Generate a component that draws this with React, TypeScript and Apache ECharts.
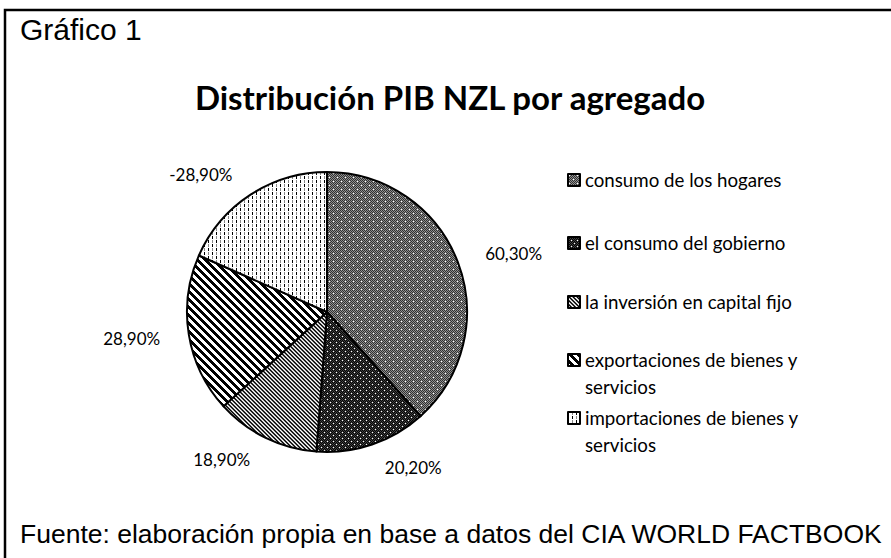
import React, { useEffect, useRef } from 'react';
import * as echarts from 'echarts';

const CATEGORIES = [
  'consumo de los hogares',
  'el consumo del gobierno',
  'la inversión en capital fijo',
  'exportaciones de bienes y servicios',
  'importaciones de bienes y servicios',
];
const VALUES = [60.3, 20.2, 18.9, 28.9, -28.9];
const TITLE = 'Distribución PIB NZL por agregado';
const CAPTION = 'Gráfico 1';
const SOURCE = 'Fuente: elaboración propia en base a datos del CIA WORLD FACTBOOK';

type PixFn = (x: number, y: number) => string;

function makeTile(w: number, h: number, fn: PixFn) {
  const c = document.createElement('canvas');
  c.width = w;
  c.height = h;
  const ctx = c.getContext('2d')!;
  for (let y = 0; y < h; y++) {
    for (let x = 0; x < w; x++) {
      ctx.fillStyle = fn(x, y);
      ctx.fillRect(x, y, 1, 1);
    }
  }
  return { image: c.toDataURL(), repeat: 'repeat', imageWidth: w, imageHeight: h } as any;
}

function buildPatterns() {
  const mod = (a: number, n: number) => ((a % n) + n) % n;
  const p1 = makeTile(8, 8, (x, y) => {
    if ((x === 1 && y === 1) || (x === 5 && y === 5)) return '#ffffff';
    return (x + y) % 2 === 0 ? '#303030' : '#909090';
  });
  const p2 = makeTile(6, 6, (x, y) => {
    if ((x === 0 && y === 0) || (x === 3 && y === 3)) return '#ffffff';
    return (x + y) % 2 === 0 ? '#050505' : '#404040';
  });
  const p3 = makeTile(4, 4, (x, y) => {
    const m = mod(x - y, 4);
    return ['#000000', '#505050', '#ffffff', '#a8a8a8'][m];
  });
  const p4 = makeTile(8, 8, (x, y) => (mod(x - y, 8) < 4 ? '#000000' : '#ffffff'));
  const p5 = makeTile(8, 8, (x, y) => {
    if (x === 0 && y <= 2) return '#000000';
    if (x === 0 && y >= 4 && y <= 6) return '#8a8a8a';
    if (x === 4 && y >= 4 && y <= 6) return '#000000';
    if (x === 4 && y <= 2) return '#8a8a8a';
    return '#ffffff';
  });
  return [p1, p2, p3, p4, p5];
}

const fmt = (v: number) => v.toFixed(2).replace('.', ',') + '%';

export default function App() {
  const ref = useRef<HTMLDivElement>(null);
  useEffect(() => {
    if (!ref.current) return;
    const chart = echarts.init(ref.current, undefined, { renderer: 'svg' });
    const patterns = buildPatterns();
    const LH = 27;
    const legendCenters = [180, 243, 302, 360, 418];
    const legends = CATEGORIES.map((name, i) => {
      const multi = name.includes(' y servicios');
      return {
        orient: 'vertical',
        left: 567,
        top: multi ? legendCenters[i] - LH * 1.5 : legendCenters[i] - LH / 2,
        padding: 0,
        itemWidth: 12,
        itemHeight: 12,
        icon: 'rect',
        data: [name],
        formatter: (n: string) =>
          n.includes(' y servicios') ? '\n' + n.replace(' y servicios', ' y\nservicios') : n,
        textStyle: { fontFamily: 'Lato', fontSize: 18.7, color: '#000', lineHeight: LH },
        selectedMode: false,
      };
    });
    chart.setOption({
      animation: false,
      backgroundColor: '#ffffff',
      title: {
        text: TITLE,
        left: 450,
        textAlign: 'center',
        top: 80,
        padding: 0,
        textStyle: { fontFamily: 'Lato', fontWeight: 'bold', fontSize: 33, color: '#000' },
      },
      legend: legends,
      graphic: [
        {
          type: 'rect',
          shape: { x: 5, y: 10, width: 1000, height: 1000 },
          style: { fill: 'none', stroke: '#000', lineWidth: 2.5 },
          silent: true,
        },
        {
          type: 'text',
          x: 20,
          y: 29,
          style: { text: CAPTION, font: '30px "Liberation Sans", Arial, sans-serif', fill: '#000', verticalAlign: 'middle' },
        },
        {
          type: 'text',
          x: 20,
          y: 534,
          style: { text: SOURCE, font: '26.5px "Liberation Sans", Arial, sans-serif', fill: '#000', verticalAlign: 'middle' },
        },
      ],
      series: [
        {
          type: 'pie',
          center: [327, 312],
          radius: 140,
          startAngle: 90,
          clockwise: true,
          avoidLabelOverlap: false,
          data: CATEGORIES.map((name, i) => ({
            name,
            value: Math.abs(VALUES[i]),
            itemStyle: { color: patterns[i] },
          })),
          itemStyle: { borderColor: '#000', borderWidth: 2 },
          label: {
            show: true,
            position: 'outside',
            formatter: (p: any) => fmt(VALUES[p.dataIndex]),
            fontFamily: 'Lato',
            fontSize: 17,
            color: '#000',
          },
          labelLine: { show: false, length: 24, length2: 0 },
          emphasis: { disabled: true },
        },
      ],
    });
    return () => chart.dispose();
  }, []);
  return (
    <div
      ref={ref}
      style={{ position: 'fixed', left: 0, top: 0, width: 891, height: 558, background: '#fff' }}
    />
  );
}
